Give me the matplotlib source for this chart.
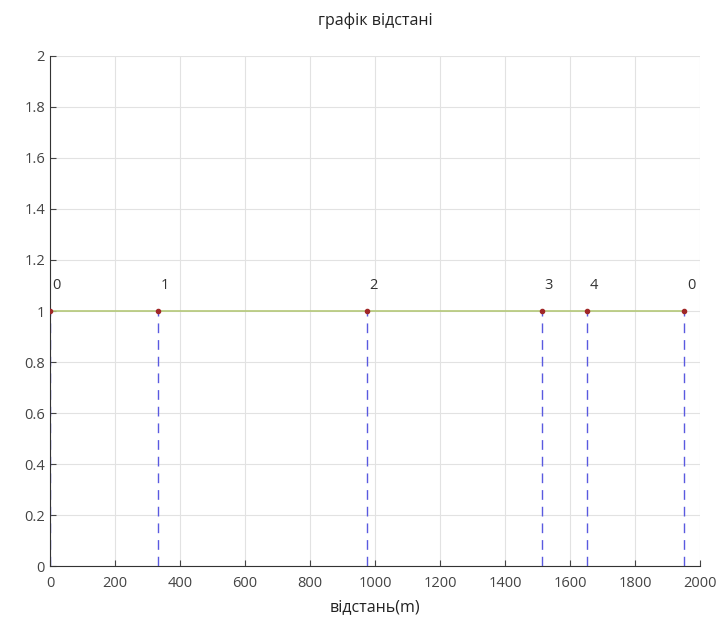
import matplotlib as mpl
import matplotlib.pyplot as plt

mpl.rcParams['font.family'] = ['Open Sans', 'DejaVu Sans']

# point positions along the route (m) and their labels
dist = [0, 332, 975, 1514, 1652, 1951]
names = ['0', '1', '2', '3', '4', '0']
level = [1, 1, 1, 1, 1, 1]

xticks = [0, 200, 400, 600, 800, 1000, 1200, 1400, 1600, 1800, 2000]
yticks = [0, 0.2, 0.4, 0.6, 0.8, 1, 1.2, 1.4, 1.6, 1.8, 2]
ytick_labels = ['0', '0.2', '0.4', '0.6', '0.8', '1', '1.2', '1.4', '1.6', '1.8', '2']

fig = plt.figure(figsize=(7.24, 6.36), dpi=100)
ax = fig.add_axes([0.069, 0.110, 0.898, 0.802])

ax.plot(dist, level, color='#b4c878', linewidth=1.2, zorder=3)
for x, y, s in zip(dist, level, names):
    ax.plot([x, x], [0, y], color='#5a5ae0', linestyle=(0, (7, 5)), linewidth=1.0, zorder=2)
    ax.plot(x, y, 'o', color='#a02828', markersize=3, zorder=4)
    ax.text(x + 8, y + 0.1, s, ha='left', va='center', fontsize=10.5, color='#333333')

ax.set_xlim(0, 2000)
ax.set_ylim(0, 2)
ax.set_xticks(xticks)
ax.set_yticks(yticks)
ax.set_yticklabels(ytick_labels)
ax.tick_params(direction='in', length=4, labelsize=10.5, colors='#444444')
ax.tick_params(axis='x', pad=7)
ax.grid(True, color='#e2e2e2', linewidth=0.8)
ax.set_axisbelow(True)

for side in ['top', 'right']:
    ax.spines[side].set_visible(False)
for side in ['left', 'bottom']:
    ax.spines[side].set_color('#333333')

ax.set_title('графік відстані', fontsize=11.5, color='#222222', pad=22)
ax.set_xlabel('відстань(m)', fontsize=11.5, color='#222222', labelpad=6)

fig.savefig('out.png', dpi=100)
